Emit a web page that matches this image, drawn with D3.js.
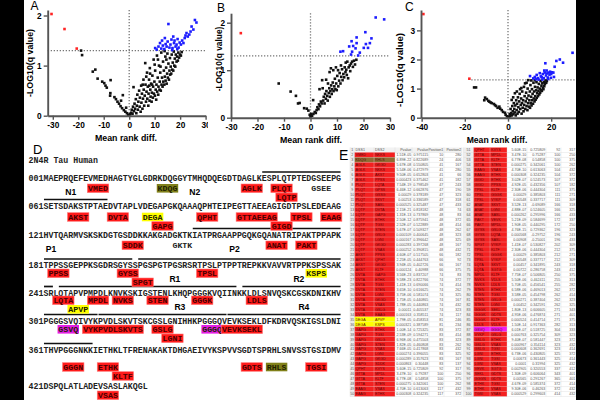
<!DOCTYPE html>
<html>
<head>
<meta charset="utf-8">
<script src="https://cdn.jsdelivr.net/npm/d3@7"></script>
<style>
body { margin: 0; background: #000; }
svg { display: block; }
</style>
</head>
<body>
<svg id="fig"></svg>
<script>
// ---------- data: volcano plots ----------
var qCut = 1.3;

var redA = [[-30.5,2.03],[-25.4,1.73],[-20.6,1.34]];
var blueA = [[10.2,1.35],[10.8,1.32],[11.5,1.38],[12.1,1.45],[12.6,1.34],[13.2,1.4],[13.8,1.33],[14.3,1.43],[14.7,1.38],[15.1,1.48],
  [15.4,1.83],[15.8,1.36],[16.2,1.42],[16.6,1.52],[17.0,1.35],[17.3,1.58],[17.6,1.45],[17.8,1.5],[18.2,1.38],[18.6,1.42],
  [19.0,1.53],[19.4,1.36],[19.8,1.46],[20.3,1.42],[20.8,1.5],[21.3,1.45],[21.8,1.55],[22.1,1.6],[22.5,1.65],[23.0,1.58],
  [23.6,1.62],[24.1,1.68],[24.5,1.78],[25.2,1.72],[25.8,1.91],[26.4,1.86],[18.9,1.33],[16.9,1.31],[14.0,1.55],[12.9,1.5]];
var blackA = [[-18.9,1.30],[-18.5,1.21],[-14.3,0.88],[-13.3,0.92],[-12.4,0.74],[-10.6,0.68],[-9.8,0.65],[-9.3,0.60],[-8.8,0.56],
  [-7.3,0.71],[-7.4,0.45],[-7.5,0.40],[-5.8,0.37],[-5.2,0.33],[-4.6,0.28],[-4.0,0.24],[-3.4,0.19],[-2.5,0.41],[-2.8,0.15],
  [-2.1,0.11],[-1.5,0.08],[-0.9,0.05],[-0.4,0.02],[0.0,0.01],[-1.2,0.16],[-3.2,0.3],
  [0.4,0.03],[0.8,0.06],[1.0,0.12],[1.3,0.04],[1.5,0.18],[1.7,0.57],[1.9,0.09],[2.1,0.24],[2.3,0.14],[2.6,0.33],[2.8,0.05],
  [3.0,0.2],[3.2,0.42],[3.4,0.12],[3.6,0.28],[3.9,0.5],[4.1,0.18],[4.2,0.36],[4.5,0.08],[4.7,0.6],[4.8,0.26],[5.0,0.44],
  [5.2,0.14],[5.4,0.34],[5.6,0.72],[5.7,0.52],[5.9,0.2],[6.1,0.4],[6.3,1.05],[6.4,0.62],[6.6,0.28],[6.8,0.48],[7.0,0.86],
  [7.1,0.34],[7.3,0.58],[7.5,0.2],[7.6,0.44],[7.8,0.72],[8.0,0.3],[8.1,0.95],[8.3,0.52],[8.4,0.38],[8.6,0.64],[8.8,0.28],
  [8.9,0.46],[9.1,0.8],[9.3,0.36],[9.4,0.58],[9.6,1.12],[9.7,0.44],[9.9,0.68],[10.1,0.4],[10.2,0.9],[10.4,0.52],[10.6,0.32],
  [10.7,0.62],[10.9,1.2],[11.0,0.48],[11.2,0.76],[11.4,0.42],[11.5,0.58],[11.7,1.0],[11.9,0.52],[12.0,0.68],[12.2,0.86],
  [12.4,0.5],[12.6,1.26],[12.7,0.62],[12.9,0.76],[13.1,0.58],[13.3,1.08],[13.4,0.68],[13.6,0.9],[13.8,0.62],[14.0,0.78],
  [14.2,1.18],[14.3,0.7],[14.5,0.96],[14.7,0.64],[14.9,0.84],[15.0,1.24],[15.2,0.76],[15.4,1.04],[15.6,0.72],[15.8,0.9],
  [16.0,1.15],[16.1,0.82],[16.3,0.98],[16.5,0.84],[16.7,1.22],[16.9,0.92],[17.1,1.06],[17.3,0.9],[17.5,1.28],[17.7,1.0],
  [17.9,1.14],[18.1,0.98],[18.3,1.22],[18.6,1.08],[18.8,1.18],[19.1,1.1],[19.3,1.26],[19.6,1.16],[19.9,1.22],[20.3,1.2],
  [20.6,1.27],[5.3,0.62],[6.7,0.78],[8.2,0.84],[10.0,1.02],[11.3,1.12],[13.9,1.29],[7.9,0.6],[9.0,0.62],[12.3,0.98],[14.6,1.12]];

var redB = [[-26.3,1.78]];
var blueB = [[24.6,2.11],[27.8,2.07],[20.7,1.80],[23.0,1.67],[22.4,1.57],[20.9,1.55],[20.1,1.47],[21.7,1.47],[17.4,1.57],
  [16.1,1.51],[17.0,1.46],[15.7,1.39],[14.6,1.50],[12.3,1.40],[11.3,1.39],[17.4,1.69],[15.5,1.61],[18.6,1.37],[18.0,1.31],[15.3,1.33]];
var blackB = [[-12.0,0.72],[-7.5,0.55],[-5.5,0.46],[-4.7,0.30],[-4.1,0.31],[-2.4,0.20],[-1.4,0.19],[-0.8,0.15],[-0.3,0.06],
  [0.0,0.02],[0.2,0.08],[1.0,0.37],
  [0.6,0.04],[1.1,0.08],[1.6,0.12],[2.0,0.10],[2.3,0.16],[2.6,0.22],[3.0,0.18],[3.2,0.28],[3.6,0.24],[3.9,0.34],[4.2,0.3],
  [4.4,0.79],[4.6,0.62],[4.8,0.36],[5.0,0.44],[5.3,0.3],[5.5,0.5],[5.8,0.4],[6.0,0.56],[6.3,0.46],[6.6,0.72],[6.5,0.36],
  [6.9,0.52],[7.1,0.62],[7.3,0.44],[7.5,0.56],[7.7,1.04],[7.8,0.68],[8.0,0.5],[8.2,0.6],[8.4,0.74],[8.6,1.00],[8.7,0.56],
  [9.0,0.66],[9.2,0.82],[9.4,0.6],[9.7,0.72],[9.9,0.58],[10.1,0.88],[10.4,1.00],[10.5,0.66],[10.8,0.78],[11.0,0.94],
  [11.3,0.72],[11.6,0.86],[11.9,1.02],[12.1,0.79],[12.4,0.92],[12.7,0.85],[12.9,1.06],[13.2,0.96],[13.5,1.01],[13.7,0.9],
  [13.9,1.18],[14.2,0.83],[14.4,1.06],[14.8,1.10],[15.0,0.98],[15.3,1.14],[15.7,1.18],[16.0,1.07],[16.4,1.2],[16.8,1.12],
  [17.3,1.22],[3.4,0.6],[5.9,0.8],[7.2,0.96],[9.6,1.06],[11.5,1.1],[13.3,1.16]];

var redC = [[-39.2,3.56],[-17.9,1.34]];
var blueC = [[10.2,1.43],[11.7,1.35],[12.4,1.4],[13.3,1.47],[13.8,1.36],[14.7,1.53],[15.2,1.42],[15.6,1.39],[16.1,1.5],
  [16.6,1.36],[17.0,1.55],[17.3,1.87],[17.6,1.45],[18.0,1.52],[18.4,1.38],[18.8,1.55],[19.2,1.48],[19.5,1.58],[20.0,1.5],
  [20.4,1.56],[21.0,1.55],[21.6,1.75],[22.4,1.95],[24.0,2.0],[25.5,1.89],[29.9,2.23],[12.9,1.32],[14.2,1.31],[16.8,1.62],
  [18.6,1.33],[15.9,1.31],[17.9,1.62],[19.9,1.37],[21.3,1.4]];
var blackC = [[-15.7,1.04],[-14.8,1.04],[-11.0,0.6],[-10.6,0.69],[-9.8,0.64],[-9.1,0.58],[-8.6,0.55],[-8.0,0.52],[-7.5,0.5],
  [-6.5,0.47],[-6.0,0.43],[-5.5,0.4],[-4.0,0.38],[-4.8,0.34],[-3.6,0.31],[-2.9,0.26],[-2.3,0.2],[-1.4,0.17],[-1.1,0.1],
  [-0.5,0.05],[0.0,0.02],
  [0.4,0.03],[0.8,0.12],[1.0,0.05],[1.2,0.3],[1.4,0.16],[1.7,0.61],[1.8,0.08],[2.0,0.4],[2.2,0.22],[2.5,0.12],[2.7,0.5],
  [2.9,0.3],[3.1,0.18],[3.2,0.84],[3.4,0.42],[3.6,0.08],[3.8,0.6],[4.0,0.26],[4.2,0.48],[4.4,0.14],[4.6,0.7],[4.8,0.36],
  [5.0,0.2],[5.2,0.56],[5.4,0.82],[5.6,0.98],[5.7,0.3],[5.9,0.44],[6.1,0.66],[6.3,0.14],[6.5,0.5],[6.6,0.9],[6.8,0.34],
  [7.0,0.6],[7.2,0.22],[7.4,1.06],[7.5,0.44],[7.7,0.74],[7.9,1.18],[8.0,0.3],[8.2,0.56],[8.4,0.86],[8.6,0.4],[8.8,0.66],
  [9.0,0.26],[9.1,1.0],[9.3,0.5],[9.4,1.29],[9.5,0.76],[9.7,0.38],[9.9,0.6],[10.1,0.9],[10.2,0.34],[10.4,1.12],[10.5,0.5],
  [10.7,0.72],[10.9,0.42],[11.1,0.98],[11.2,0.6],[11.4,0.82],[11.6,0.48],[11.8,1.2],[11.9,0.66],[12.1,0.9],[12.3,0.56],
  [12.5,1.06],[12.6,0.74],[12.8,0.62],[13.0,0.94],[13.2,1.22],[13.3,0.68],[13.5,0.84],[13.7,1.04],[13.9,0.74],[14.1,0.92],
  [14.3,1.16],[14.5,0.8],[14.7,1.0],[14.9,0.86],[15.1,1.26],[15.3,0.94],[15.5,1.1],[15.7,0.92],[15.9,1.18],[16.1,1.02],
  [16.4,0.98],[16.6,1.22],[16.8,1.08],[17.1,1.16],[17.4,1.28],[17.7,1.2],[18.0,1.26],[6.2,1.02],[8.6,1.2],[10.8,1.28],
  [12.4,1.29],[4.1,0.9],[2.4,0.7]];

var xTicksA = [-30, -20, -10, 0, 10, 20, 30];
var yTicksA = [0, 1, 2];
var xTicksB = [-30, -20, -10, 0, 10, 20, 30];
var yTicksB = [0, 1, 2];
var xTicksC = [-40, -20, 0, 20];
var yTicksC = [0, 1, 2, 3];

// ---------- data: tau sequence ----------
var tauSeq = 'MAEPRQEFEVMEDHAGTYGLGDRKDQGGYTMHQDQEGDTDAGLKESPLQTPTEDGSEEPG' +
  'SETSDAKSTPTAEDVTAPLVDEGAPGKQAAAQPHTEIPEGTTAEEAGIGDTPSLEDEAAG' +
  'HVTQARMVSKSKDGTGSDDKKAKGADGKTKIATPRGAAPPGQKGQANATRIPAKTPPAPK' +
  'TPPSSGEPPKSGDRSGYSSPGSPGTPGSRSRTPSLPTPPTREPKKVAVVRTPPKSPSSAK' +
  'SRLQTAPVPMPDLKNVKSKIGSTENLKHQPGGGKVQIINKKLDLSNVQSKCGSKDNIKHV' +
  'PGGGSVQIVYKPVDLSKVTSKCGSLGNIHHKPGGGQVEVKSEKLDFKDRVQSKIGSLDNI' +
  'THVPGGGNKKIETHKLTFRENAKAKTDHGAEIVYKSPVVSGDTSPRHLSNVSSTGSIDMV' +
  'DSPQLATLADEVSASLAKQGL';
var seqTitle = '2N4R Tau Human';

// [peptide, first residue, row under the line, group]
var peptides = [
  ['VMED',10,1,'r'],['KDQG',24,1,'o'],['AGLK',41,1,'r'],['PLQT',47,1,'r'],['LQTP',48,2,'r'],['GSEE',55,1,'n'],
  ['AKST',66,1,'r'],['DVTA',74,1,'r'],['DEGA',81,1,'y'],['GAPG',83,2,'r'],['QPHT',92,1,'r'],['GTTAEEAG',100,1,'r'],
  ['GIGD',107,2,'r'],['TPSL',111,1,'r'],['EAAG',117,1,'r'],
  ['SDDK',137,1,'r'],['GKTK',147,1,'n'],['ANAT',166,1,'r'],['PAKT',172,1,'r'],
  ['PPSS',182,1,'r'],['GYSS',196,1,'r'],['SPGT',199,2,'r'],['TPSL',212,1,'r'],['KSPS',234,1,'y'],
  ['LQTA',243,1,'r'],['MPDL',250,1,'r'],['NVKS',255,1,'r'],['STEN',262,1,'r'],['GGGK',271,1,'r'],['LDLS',282,1,'r'],
  ['APVP',246,2,'y'],
  ['GSVQ',304,1,'m'],['VYKPVDLSKVTS',309,1,'r'],['GSLG',323,1,'r'],['LGNI',325,2,'r'],['GGGQ',333,1,'m'],['VEVKSEKL',337,1,'r'],
  ['GGGN',365,1,'r'],['ETHK',372,1,'r'],['KLTF',375,2,'r'],['GDTS',401,1,'r'],['RHLS',406,1,'o'],['TGSI',414,1,'r'],
  ['VSAS',432,1,'r']
];
// residue spans marked with a bar over the sequence
var overlines = [[45,60],[61,73],[151,180],[181,198],[200,240],[241,242],[244,279],[281,300],[301,311],[312,337],[338,360],[361,370]];
// domain names, centred on a residue
var domainLabels = [['N1',6],['N2',31],['P1',122],['P2',159],['R1',207],['R2',232],['R3',268],['R4',293]];

// ---------- data: table E ----------
var tableHeader = ['DSS1','DSS2','Pvalue','Pvalue','Position1','Position2'];
var tableLeft = [
  'VMED NKKS 1.51E-05 0.975115 10 280','KDQG RHLS 6.89E-22 0.822689 24 406','AGLK GKGD 5.67E-08 0.550805 41 167',
  'AGLK NKKS 5.54E-06 0.472979 41 280','AGLK AKST 9.50E-05 0.652803 41 66','AGLK PPSS 0.000423 0.375462 41 182',
  'PLQT LQTA 7.54E-19 0.798549 47 243','PLQT GPSS 6.46E-12 0.662876 47 190','PLQT GSSG 0.00029 0.378189 47 323',
  'PLQT SKVT 0.00253 0.336589 47 318','PLQT SASL 0.000525 0.325487 47 433','LQTP DVTA 2.15E-21 0.818182 48 74',
  'LQTP GAPG 1.31E-13 0.737869 48 83','LQTP ETHK 2.50E-12 0.875941 48 372','LQTP TGSI 2.52E-07 0.522889 48 414',
  'LQTP STEN 5.67E-07 0.509327 48 262','LQTP GSLG 0.000109 0.400645 48 323','LQTP LGNI 0.000167 0.396642 48 325',
  'LQTP GKGD 0.000283 0.397268 48 167','LQTP VSAS 0.000252 0.390815 48 432','AKST PPSS 4.60E-07 0.517505 66 182',
  'AKST QPHT 2.25E-05 0.444763 66 92','AKST GKGD 3.94E-05 0.402726 66 167','AKST KLTF 0.000124 0.40988 66 375',
  'DVTA GAPG 3.56E-23 0.837207 74 83','DVTA ETHK 9.58E-23 0.822766 74 372','DVTA TGSI 1.41E-13 0.690066 74 414',
  'DVTA STEN 3.65E-10 0.616625 74 262','DVTA LGNI 3.75E-06 0.581074 74 325','DVTA GKGD 1.75E-05 0.440865 74 167',
  'DVTA VSAS 1.78E-05 0.440863 74 432','DVTA GSLG 0.00011 0.405537 74 323','DVTA EAAG 0.000163 0.358511 74 117',
  'DEGA APVP 1.79E-05 0.458353 81 246','DEGA KSPS 0.000321 0.387589 81 234','GAPG ETHK 1.00E-14 0.725325 83 372',
  'GAPG TGSI 2.53E-09 0.594271 83 414','GAPG GSLG 6.96E-06 0.475503 83 323','GAPG STEN 1.82E-05 0.460808 83 262',
  'GAPG VSAS 7.66E-05 0.417868 83 432','GAPG LGNI 0.000274 0.396055 83 325','GAPG GKGD 0.000289 0.357623 83 167',
  'GAPG SDDK 0.000863 0.30448 83 137','QPHT KVYS 5.60E-15 0.725809 92 317','GTTA MPDL 3.47E-10 0.79287 100 250',
  'GTTA KLTF 6.77E-08 0.54858 100 375','GTTA STEN 0.000275 0.342061 100 262','EAAG VSAS 4.70E-10 0.613063 117 432',
  'EAAG ETHK 0.000308 0.324235 117 372'
];
var tableRight = [
  'QPHT KVYS 5.60E-15 0.725809 92 317','GTTA MPDL 3.47E-10 0.75287 100 250','GTTA KLTF 6.77E-08 0.54858 100 375',
  'GTTA STEN 0.000275 0.342061 100 262','EAAG VSAS 4.70E-10 0.613063 104 432','EAAG ETHK 0.000308 0.324235 104 372',
  'GIGD ETHK 3.02E-07 0.524573 107 372','GIGD PPSS 4.92E-05 0.432356 107 182','TPSL KLTF 2.30E-06 0.444304 111 375',
  'TPSL GGGK 0.00029 0.385803 111 271','TPSL VYKP 0.00548 0.337717 111 309','ANAT SKVT 3.52E-13 -0.69089 166 318',
  'ANAT LGNI 4.88E-07 0.524605 166 325','ANAT SASL 0.000262 0.295996 166 433','PAKT VEVK 5.21E-09 0.584699 172 337',
  'PAKT MPDL 1.90E-05 0.440295 172 250','GYSS GSLG 4.76E-15 0.729362 196 323','GYSS LQTA 0.000568 -0.29752 196 243',
  'GYSS SASL 0.00908 -0.25001 196 433','SPGT VYKP 1.41E-07 0.530827 202 309','TPSL KLTF 2.30E-06 0.444304 212 375',
  'TPSL GGGK 0.00029 0.385803 212 271','TPSL VYKP 0.00548 0.337717 212 309','LQTA SKVT 0.00457 0.341895 243 318',
  'LQTA SGTG 0.00722 0.286758 243 412','MPDL KLTF 7.75E-07 0.506805 250 375','NVKS VDLS 5.50E-06 0.462411 255 313',
  'NVKS LDLS 5.70E-05 0.456541 255 282','STEN ETHK 6.58E-06 0.469013 262 372','STEN TGSI 3.58E-05 0.454798 262 414',
  'STEN GSLG 0.000271 0.387404 262 323','STEN LGNI 0.00452 0.342591 262 325','GGGK SEKL 1.80E-13 0.606605 271 343',
  'GGGK GDTS 4.95E-06 0.476874 271 401','GGGK KLTF 0.000524 0.414714 271 375','LDLS VDLS 1.50E-14 0.917363 282 313',
  'GSVQ GGGQ 6.01E-07 0.518725 304 333','VYKP GSLG 0.000763 0.325754 309 323','GSLG ETHK 9.40E-07 0.581447 323 372',
  'GSLG VSAS 0.000967 0.354114 323 432','GSLG TGSI 0.000608 0.362691 323 414','LGNI ETHK 6.73E-06 0.430805 325 372',
  'LGNI TGSI 0.00673 0.361443 325 414','LGNI VSAS 0.0001 0.31994 325 432','VEVK SGTG 0.002905 0.320553 337 412',
  'SEKL GDTS 1.30E-09 0.606064 343 401','GGGN GDTS 0.00565 0.291267 365 401','ETHK TGSI 4.67E-09 0.585374 372 414',
  'ETHK VSAS 9.30E-06 0.46263 372 432','TGSI VSAS 0.000529 0.299603 414 432'
];

// ---------- setup ----------
var width = 600, height = 400;
var sans = "'Liberation Sans', Arial, sans-serif";
var mono = "'Liberation Mono', 'Courier New', monospace";
var boxColors = { r: '#ff1a1a', o: '#808019', y: '#ffff00', m: '#e31ee3' };
var cellColors = { r: '#f42020', o: '#8e6c32', y: '#ffff00', m: '#f01cf0' };

var svg = d3.select('#fig').attr('width', width).attr('height', height);
svg.append('rect').attr('width', width).attr('height', height).attr('fill', '#fff');

//volcano panel
var drawVolcano = (p) => {
  var g = svg.append('g');
  g.append('rect').attr('x', p.bg[0]).attr('y', 0).attr('width', p.bg[1] - p.bg[0]).attr('height', 146).attr('fill', '#fff');

  var xScale = d3.scaleLinear().domain(p.xd).range(p.xr);
  var yScale = d3.scaleLinear().domain(p.yd).range(p.yr);

  g.append('line')
    .attr('x1', xScale(p.hFrom)).attr('x2', p.xr[1])
    .attr('y1', yScale(qCut)).attr('y2', yScale(qCut))
    .attr('stroke', '#777').attr('stroke-width', 1.3).attr('stroke-dasharray', '1.3,1.7');
  g.append('line')
    .attr('x1', xScale(0)).attr('x2', xScale(0))
    .attr('y1', p.yr[1]).attr('y2', p.yr[0])
    .attr('stroke', '#777').attr('stroke-width', 1.3).attr('stroke-dasharray', '1.3,1.7');

  var dots = (data, color) => {
    g.append('g').selectAll('rect')
      .data(data)
      .enter()
      .append('rect')
      .attr('x', (d) => xScale(d[0]) - 1.3)
      .attr('y', (d) => yScale(d[1]) - 1.3)
      .attr('width', 2.6)
      .attr('height', 2.6)
      .attr('fill', color);
  };
  dots(p.black, '#111');
  dots(p.blue, '#1c1cff');
  dots(p.red, '#ff2424');

  var xAxis = d3.axisBottom(xScale).tickValues(p.xt).tickSize(4).tickSizeOuter(0).tickPadding(2)
    .tickFormat((d) => String(d));
  var yAxis = d3.axisLeft(yScale).tickValues(p.yt).tickSize(4).tickSizeOuter(0).tickPadding(2)
    .tickFormat((d) => String(d));

  var styleAxis = (a) => {
    a.select('.domain').attr('stroke', '#555').attr('stroke-width', 1.9);
    a.selectAll('.tick line').attr('stroke', '#555').attr('stroke-width', 1.4);
    a.selectAll('.tick text').attr('fill', '#000').style('font', 'bold 8.3px ' + sans);
  };

  g.append('g')
    .attr('transform', 'translate(0,' + p.yr[0] + ')')
    .call(xAxis)
    .call(styleAxis);
  g.append('g')
    .attr('transform', 'translate(' + p.xr[0] + ',0)')
    .call(yAxis)
    .call(styleAxis);

  g.append('text')
    .attr('x', p.xlab[0]).attr('y', p.xlab[1])
    .attr('text-anchor', 'middle')
    .style('font', 'bold ' + p.xlab[2] + 'px ' + sans)
    .text('Mean rank diff.');
  g.append('text')
    .attr('transform', 'translate(' + p.ylab[0] + ',' + p.ylab[1] + ') rotate(-90)')
    .attr('text-anchor', 'middle')
    .attr('dy', '0.35em')
    .style('font', 'bold ' + p.ylab[2] + 'px ' + sans)
    .text('-LOG10(q value)');
  g.append('text')
    .attr('x', p.letter[0]).attr('y', p.letter[1])
    .style('font', '12px ' + sans)
    .text(p.name);
};

drawVolcano({ name: 'A', bg: [24, 208], xd: [-32, 30], xr: [47.7, 205.6], yd: [0, 2.11], yr: [115.7, 10],
  xt: xTicksA, yt: yTicksA, hFrom: -32, black: blackA, blue: blueA, red: redA,
  xlab: [126, 141, 8.8], ylab: [30, 63, 8.8], letter: [30.5, 10] });
drawVolcano({ name: 'B', bg: [208, 392], xd: [-30, 30], xr: [231, 390], yd: [0, 2.2], yr: [117.7, 13.2],
  xt: xTicksB, yt: yTicksB, hFrom: -30, black: blackB, blue: blueB, red: redB,
  xlab: [311, 143, 8.8], ylab: [219.5, 59, 8.4], letter: [217, 12] });
drawVolcano({ name: 'C', bg: [395, 576], xd: [-40.3, 31.5], xr: [421, 576], yd: [0, 3.7], yr: [117.7, 10],
  xt: xTicksC, yt: yTicksC, hFrom: -17, black: blackC, blue: blueC, red: redC,
  xlab: [497, 143, 8.6], ylab: [400, 70, 9.6], letter: [405, 11] });

// ---------- panel D: sequence map ----------
var x0 = 28.6, cw = 4.96, seqFont = 8.27;
var baselines = [181, 208.5, 237.5, 268, 295.5, 323.5, 352.5, 388.5];
var rowTops = [184, 212.7, 241, 269, 296, 325, 362.7, 391];

var lineOf = (res) => Math.floor((res - 1) / 60);
var charX = (res) => x0 + (3 + (res - 1) % 60) * cw;

var seqG = svg.append('g');
seqG.append('text').attr('x', 33).attr('y', 153.5).style('font', '13px ' + sans).text('D');
seqG.append('text')
  .attr('x', x0).attr('y', 162.7)
  .attr('textLength', seqTitle.length * cw).attr('lengthAdjust', 'spacingAndGlyphs')
  .style('font', 'bold ' + seqFont + 'px ' + mono).attr('fill', '#222')
  .text(seqTitle);

var seqLines = d3.range(0, tauSeq.length, 60).map((s) => String(s + 1).padStart(3, '0') + tauSeq.slice(s, s + 60));

seqG.selectAll('.seq')
  .data(seqLines)
  .enter()
  .append('text')
  .attr('class', 'seq')
  .attr('x', x0)
  .attr('y', (d, i) => baselines[i])
  .attr('textLength', (d) => d.length * cw)
  .attr('lengthAdjust', 'spacingAndGlyphs')
  .attr('fill', '#222')
  .style('font', 'bold ' + seqFont + 'px ' + mono)
  .text((d) => d);

seqG.selectAll('.ovl')
  .data(overlines)
  .enter()
  .append('line')
  .attr('x1', (d) => charX(d[0]) + 0.5)
  .attr('x2', (d) => charX(d[1]) + cw - 0.5)
  .attr('y1', (d) => baselines[lineOf(d[0])] - 9)
  .attr('y2', (d) => baselines[lineOf(d[0])] - 9)
  .attr('stroke', '#111')
  .attr('stroke-width', 1.7);

var pep = seqG.selectAll('.pep')
  .data(peptides)
  .enter()
  .append('g')
  .attr('transform', (d) => 'translate(' + charX(d[1]) + ',' + (rowTops[lineOf(d[1])] + (d[2] - 1) * 9) + ')');

pep.filter((d) => d[3] !== 'n')
  .append('rect')
  .attr('x', -0.8)
  .attr('y', 0)
  .attr('width', (d) => d[0].length * cw + 1.6)
  .attr('height', 8.6)
  .attr('fill', (d) => boxColors[d[3]])
  .attr('stroke', (d) => d[3] === 'r' ? '#ff7a7a' : 'none')
  .attr('stroke-width', 0.6);

pep.append('text')
  .attr('x', 0)
  .attr('y', 7)
  .attr('textLength', (d) => d[0].length * cw)
  .attr('lengthAdjust', 'spacingAndGlyphs')
  .attr('fill', (d) => d[3] === 'n' ? '#222' : (d[3] === 'r' ? '#4a0000' : '#202000'))
  .style('font', 'bold ' + (seqFont - 0.4) + 'px ' + mono)
  .text((d) => d[0]);

seqG.selectAll('.dom')
  .data(domainLabels)
  .enter()
  .append('text')
  .attr('x', (d) => charX(d[1]) + cw / 2)
  .attr('y', (d) => baselines[lineOf(d[1])] + 14)
  .attr('text-anchor', 'middle')
  .style('font', 'bold 8.6px ' + sans)
  .text((d) => d[0]);

// ---------- panel E: table ----------
svg.append('text').attr('x', 339).attr('y', 160).style('font', '14px ' + sans).text('E');

var pepGroup = {};
peptides.forEach((d) => { pepGroup[d[0].slice(0, 4)] = d[3]; });

var drawTable = (rows, firstNum, cols, top, rowH, header) => {
  var g = svg.append('g');
  var all = rows.map((r, i) => [String(firstNum + i)].concat(r.split(' ')));
  if (header) all.unshift(['1'].concat(header));
  var bottom = top + all.length * rowH;

  g.append('rect').attr('x', cols[0]).attr('y', top).attr('width', cols[7] - cols[0]).attr('height', bottom - top).attr('fill', '#fff');
  g.append('rect').attr('x', cols[0]).attr('y', top).attr('width', cols[1] - cols[0]).attr('height', bottom - top).attr('fill', '#eeeeee');

  all.forEach((cells, i) => {
    var y = top + i * rowH;
    var isHead = header && i === 0;
    if (isHead) {
      g.append('rect').attr('x', cols[1]).attr('y', y).attr('width', cols[7] - cols[1]).attr('height', rowH).attr('fill', '#f2f2f2');
    } else {
      var grp = pepGroup[cells[1]] || 'r';
      g.append('rect').attr('x', cols[1]).attr('y', y).attr('width', cols[3] - cols[1]).attr('height', rowH)
        .attr('fill', cellColors[grp === 'n' ? 'r' : grp]);
    }
    g.append('line').attr('x1', cols[0]).attr('x2', cols[7]).attr('y1', y + rowH).attr('y2', y + rowH)
      .attr('stroke', '#d6d6d6').attr('stroke-width', 0.35);
    cells.forEach((c, j) => {
      var right = j >= 3;
      var tx = j === 0 ? (cols[0] + cols[1]) / 2 : (right ? cols[j + 1] - 0.8 : cols[j] + 1);
      g.append('text')
        .attr('x', tx)
        .attr('y', y + rowH - 1.2)
        .attr('text-anchor', j === 0 ? 'middle' : (right ? 'end' : 'start'))
        .attr('fill', (!isHead && (j === 1 || j === 2)) ? '#5a0a0a' : '#555')
        .style('font', '3.6px ' + sans)
        .text(c);
    });
  });
  cols.forEach((cx) => {
    g.append('line').attr('x1', cx).attr('x2', cx).attr('y1', top).attr('y2', bottom)
      .attr('stroke', '#d6d6d6').attr('stroke-width', 0.35);
  });
};

drawTable(tableLeft, 2, [350, 354.5, 374, 395, 412, 429, 444, 462], 147.5, 4.98, tableHeader);
drawTable(tableRight, 51, [463.5, 473.5, 490, 507, 527, 546, 561, 576], 147.5, 4.98, null);

// black side strips
svg.append('rect').attr('x', 0).attr('y', 0).attr('width', 24).attr('height', height).attr('fill', '#000');
svg.append('rect').attr('x', 576).attr('y', 0).attr('width', 24).attr('height', height).attr('fill', '#000');
</script>
</body>
</html>
